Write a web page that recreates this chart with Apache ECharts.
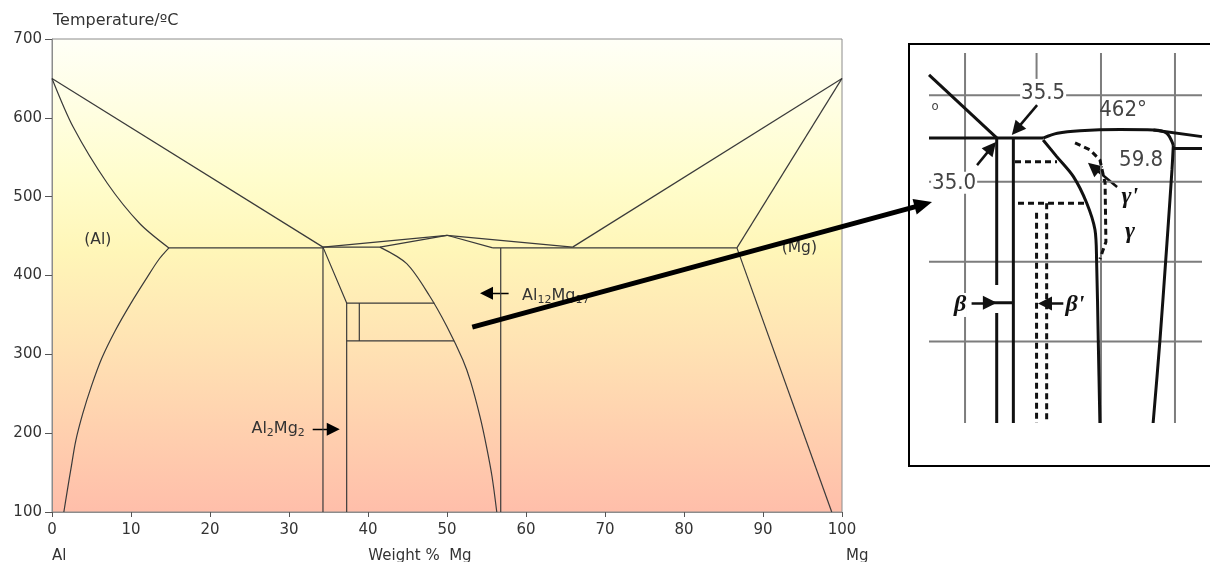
<!DOCTYPE html>
<html><head><meta charset="utf-8">
<script src="https://cdn.jsdelivr.net/npm/echarts@6/dist/echarts.min.js"></script>
<style>html,body{margin:0;padding:0;background:#fff}#c{width:1210px;height:562px}</style>
</head><body><div id="c"></div><script>
// ---------- main phase diagram (wt% Mg, temperature °C) ----------
const xTicks = [0,10,20,30,40,50,60,70,80,90,100];
const yTicks = [100,200,300,400,500,600,700];
const alLiquidus   = [[0,650],[34.3,436]];
const alSolidus    = [[0,650],[2.7,588],[7.0,517],[11.1,466],[14.8,435]];
const alSolvus     = [[14.8,435],[13.5,420],[12,397],[10,365],[8,330],[6.3,295],[5,260],[3.9,225],[3,190],[2.4,155],[1.9,125],[1.5,100]];
const leftEutectic = [[14.8,435],[34.3,435]];
const betaLeft     = [[34.3,436],[34.3,100]];
const upperLiq     = [[34.3,436],[50,451]];
const lowerLiq     = [[34.3,436],[41.5,436],[50,451]];
const betaRight    = [[34.3,436],[37.3,365],[37.3,100]];
const iso365       = [[37.3,365],[48.4,365]];
const iso317       = [[37.3,317],[50.9,317]];
const innerVert    = [[38.9,365],[38.9,317]];
const gammaSolvus  = [[41.5,436],[44.9,415],[47.8,374],[50,335],[52.0,293],[53.0,265],[54.2,220],[55.0,183],[55.7,145],[56.3,100]];
const peakRight    = [[50,451],[55.8,435]];
const peakToMgEut  = [[50,451],[65.9,436]];
const rightEutectic= [[55.8,435],[86.7,435]];
const gammaVert    = [[56.8,435],[56.8,100]];
const mgLiquidus   = [[65.9,436],[100,650]];
const mgSolidus    = [[86.7,435],[100,650]];
const mgSolvus     = [[86.7,435],[98.7,100]];
const arrowAl12Mg17 = [[57.8,377.4],[55.0,377.4]];
const arrowAl2Mg2   = [[33.0,205],[35.6,205]];

// ---------- inset (schematic enlargement, 0-100 units) ----------
const insetGridH = [88.6,65.2,43.6,22.0];
const insetGridV = [13.2,63.0,90.1];
const insetGridVPartial = [[39.4,93],[39.4,100]];
const insetLiquidus  = [[0,94.1],[24.9,77.0]];
const insetEutectic  = [[0,77],[41.8,77]];
const insetTop       = [[41.8,77],[47,78.3],[55.3,79.0],[70,79.3],[82.2,79.2],[87.1,78.3],[89.5,75.1]];
const insetGammaRight= [[89.5,75.1],[89.0,68.4],[87.5,52.2],[86.8,44.9],[84.6,22.4],[82.1,0]];
const insetRightLiq  = [[82.2,79.2],[100,77.4]];
const insetLine598   = [[89.5,74.2],[100,74.2]];
const insetGammaLeft = [[41.8,76.5],[46.8,72.0],[52.9,66.6],[57.8,59.4],[60.8,52.2],[61.4,43.6],[62.0,22.4],[62.6,0]];
const insetBeta1a    = [[24.8,77],[24.8,37.3]];
const insetBeta1b    = [[24.8,29.7],[24.8,0]];
const insetBeta2     = [[30.9,77],[30.9,0]];
const insetBetaArrowTail = [[22.3,32.5],[30.9,32.5]];
const insetBetaP1    = [[39.4,56.8],[39.4,0]];
const insetBetaP2    = [[43.1,59.4],[43.1,0]];
const insetDashH1    = [[31.5,70.6],[46.9,70.6]];
const insetDashH2    = [[32.6,59.4],[57.1,59.4]];
const insetGammaP    = [[53.5,75.7],[59.0,73.8],[62.6,71.1],[64.5,64.9],[64.8,48.9],[62.6,44.3]];
const insetArrows = [
  [[39.6,85.9],[32.0,79.3]],
  [[17.6,69.7],[22.9,74.5]],
  [[68.9,63.8],[60.2,69.1]],
  [[15.6,32.5],[22.3,32.5]],
  [[49.2,32.3],[42.5,32.3]]
];

const F = 'DejaVu Sans, Verdana, sans-serif';
const NF = 'Liberation Sans Narrow, DejaVu Sans Condensed, Arial Narrow, sans-serif';
const LC = '#3a3a3a';

function ln(data, extra) {
  return Object.assign({type:'line', data, xAxisIndex:0, yAxisIndex:0, symbol:'none', silent:true,
    animation:false, lineStyle:{color:LC, width:1.2}}, extra || {});
}
function inl(data, color, width, type, smooth) {
  return {type:'line', data, xAxisIndex:1, yAxisIndex:1, symbol:'none', silent:true, animation:false,
    smooth: smooth || false, lineStyle:{color, width, type: type || 'solid'}};
}

const series = [
  ln(alLiquidus), ln(alSolidus,{smooth:0.3}), ln(alSolvus,{smooth:0.3}), ln(leftEutectic),
  ln(betaLeft), ln(upperLiq), ln(lowerLiq), ln(betaRight), ln(iso365), ln(iso317), ln(innerVert),
  ln(gammaSolvus,{smooth:0.3}), ln(peakRight), ln(peakToMgEut), ln(rightEutectic), ln(gammaVert),
  ln(mgLiquidus), ln(mgSolidus), ln(mgSolvus),
  {type:'lines', coordinateSystem:'cartesian2d', xAxisIndex:0, yAxisIndex:0, silent:true, animation:false,
    symbol:['none','triangle'], symbolSize:[9,13],
    lineStyle:{color:'#000', width:1.3, curveness:0, opacity:1},
    data:[{coords:arrowAl12Mg17},{coords:arrowAl2Mg2}]}
];
insetGridH.forEach(y => series.push(inl([[0,y],[100,y]], '#7d7d7d', 2)));
insetGridV.forEach(x => series.push(inl([[x,0],[x,100]], '#7d7d7d', 2)));
series.push(inl(insetGridVPartial, '#7d7d7d', 2));
[insetLiquidus, insetEutectic, insetRightLiq, insetLine598,
 insetBeta1a, insetBeta1b, insetBeta2, insetBetaArrowTail].forEach(d => series.push(inl(d, '#111', 3)));
[insetTop, insetGammaRight, insetGammaLeft].forEach(d => series.push(inl(d, '#111', 3, 'solid', 0.3)));
[insetBetaP1, insetBetaP2, insetDashH1, insetDashH2, insetGammaP].forEach(d => series.push(inl(d, '#111', 3, [6,4])));
series.push({type:'lines', coordinateSystem:'cartesian2d', xAxisIndex:1, yAxisIndex:1, silent:true, animation:false,
  symbol:['none','triangle'], symbolSize:[10,14], lineStyle:{color:'#111', width:2.5, curveness:0, opacity:1},
  data: insetArrows.map(c => ({coords:c}))});

const chart = echarts.init(document.getElementById('c'), null, {renderer:'canvas'});
chart.setOption({
  animation:false,
  grid:[
    {left:52, top:39, width:790, height:473, show:true, borderColor:'#8c8c8c', borderWidth:1,
      backgroundColor:new echarts.graphic.LinearGradient(0,0,0,1,[
        {offset:0,color:'#FFFFF7'},{offset:0.3,color:'#FFFDCC'},{offset:0.45,color:'#FFF6B8'},
        {offset:0.7,color:'#FFDDB2'},{offset:1,color:'#FFBEAA'}])},
    {left:929, top:53, width:273, height:370, show:false}
  ],
  xAxis:[
    {gridIndex:0, type:'value', min:0, max:100, interval:10, splitLine:{show:false},
      axisLine:{onZero:false, lineStyle:{color:'#8c8c8c'}}, axisTick:{length:5, lineStyle:{color:'#555'}},
      axisLabel:{fontSize:15, fontFamily:F, color:'#333', margin:11}},
    {gridIndex:1, type:'value', min:0, max:100, show:false}
  ],
  yAxis:[
    {gridIndex:0, type:'value', min:100, max:700, interval:100, splitLine:{show:false},
      axisLine:{show:true, lineStyle:{color:'#8c8c8c'}}, axisTick:{show:true, length:7, lineStyle:{color:'#555'}},
      axisLabel:{fontSize:15, fontFamily:F, color:'#333', margin:10}},
    {gridIndex:1, type:'value', min:0, max:100, show:false}
  ],
  series
});

const p0 = (x,y) => chart.convertToPixel({gridIndex:0},[x,y]);
const p1 = (x,y) => chart.convertToPixel({gridIndex:1},[x,y]);
function txt(x,y,text,opt){ return {type:'text', x, y, z:50, silent:true,
  style:Object.assign({text, fontFamily:F, fontSize:15, fill:'#333', align:'left', verticalAlign:'middle'}, opt||{})}; }

const g = [];
g.push({type:'rect', z:-10, silent:true, shape:{x:909,y:44,width:400,height:422}, style:{fill:'#fff', stroke:'#000', lineWidth:2}});
g.push(txt(53,21,'Temperature/ºC',{fontSize:16}));
g.push(txt(52,556,'Al'));
g.push(txt(420,556,'Weight %  Mg',{align:'center'}));
g.push(txt(846,556,'Mg'));
let q = p0(5.8,445); g.push(txt(q[0],q[1],'(Al)',{align:'center',fontSize:15.5}));
q = p0(94.6,435); g.push(txt(q[0],q[1],'(Mg)',{align:'center',fontSize:15.5}));
const rich = {a:{fontSize:16, fontFamily:F, fill:'#333'}, s:{fontSize:11, fontFamily:F, fill:'#333', padding:[8,0,0,0]}};
q = p0(59.5,374); g.push(txt(q[0],q[1],'{a|Al}{s|12}{a|Mg}{s|17}',{rich}));
q = p0(32.0,205); g.push(txt(q[0],q[1],'{a|Al}{s|2}{a|Mg}{s|2}',{rich, align:'right'}));

// inset labels
const iw = {fontFamily:NF, fontSize:22, fill:'#444', align:'center', backgroundColor:'#fff', padding:[0,1]};
q = p1(41.8,89.2); g.push(txt(q[0],q[1],'35.5',iw));
q = p1(71.1,84.6); g.push(txt(q[0],q[1],'462°',Object.assign({},iw,{backgroundColor:'transparent'})));
q = p1(77.7,71.1); g.push(txt(q[0],q[1],'59.8',iw));
q = p1(9.2,64.9);  g.push(txt(q[0],q[1],'35.0',iw));
q = p1(2.2,85.6);  g.push(txt(q[0],q[1],'o',{fontFamily:NF, fontSize:13, fill:'#444', align:'center'}));
const gk = {fontFamily:'Liberation Serif, DejaVu Serif, serif', fontStyle:'italic', fontWeight:'bold', fontSize:24, fill:'#111', align:'center', backgroundColor:'#fff'};
q = p1(73.6,61.1); g.push(txt(q[0],q[1],"γ'",gk));
q = p1(73.6,51.6); g.push(txt(q[0],q[1],'γ',gk));
q = p1(11.4,31.9); g.push(txt(q[0],q[1],'β',gk));
q = p1(53.5,31.9); g.push(txt(q[0],q[1],"β'",gk));

// big arrow from main diagram into inset
const a = p0(53.2,334.6), b = p1(1.1,59.7);
const dx = b[0]-a[0], dy = b[1]-a[1], L = Math.hypot(dx,dy), ux = dx/L, uy = dy/L;
const hb = [b[0]-ux*18, b[1]-uy*18];
g.push({type:'line', z:100, silent:true, shape:{x1:a[0],y1:a[1],x2:hb[0]+ux*2,y2:hb[1]+uy*2}, style:{stroke:'#000', lineWidth:5}});
g.push({type:'polygon', z:100, silent:true, shape:{points:[[b[0],b[1]],[hb[0]-uy*8,hb[1]+ux*8],[hb[0]+uy*8,hb[1]-ux*8]]}, style:{fill:'#000'}});
chart.setOption({graphic:g});
</script></body></html>
